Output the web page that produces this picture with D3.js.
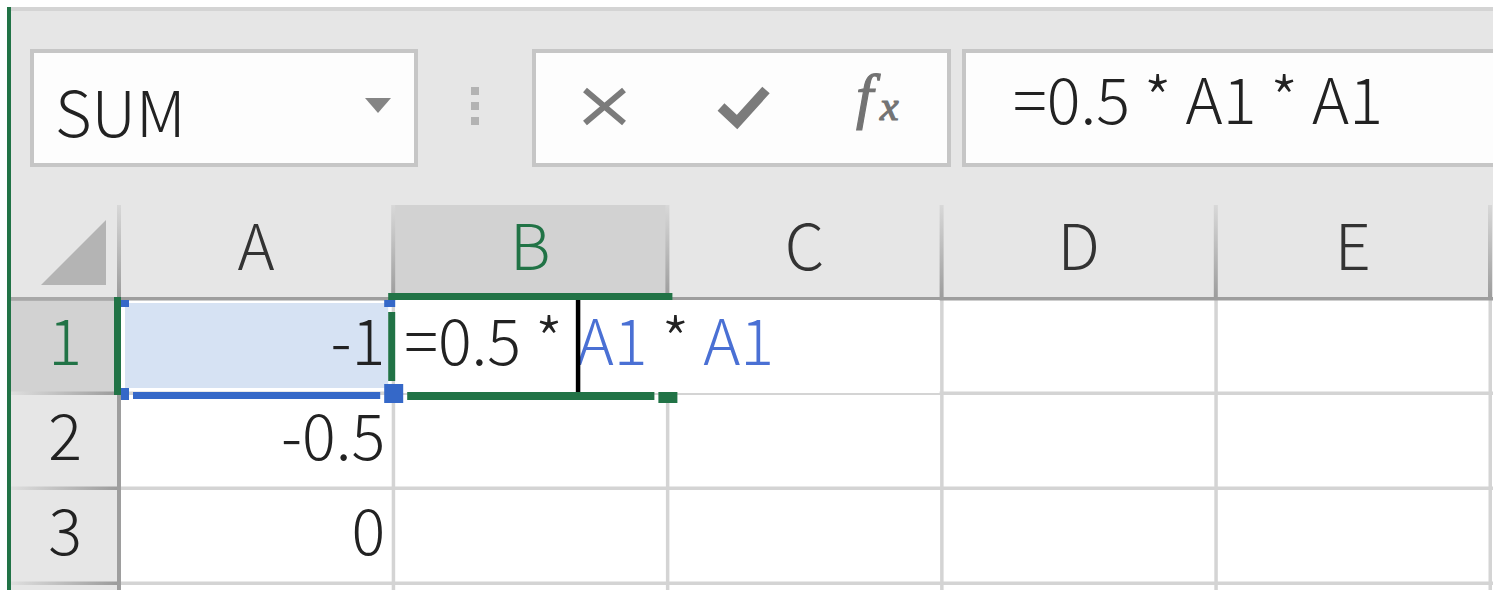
<!DOCTYPE html>
<html><head><meta charset="utf-8">
<script src="https://cdn.jsdelivr.net/npm/d3@7"></script>
<style>html,body{margin:0;padding:0;background:#fff;overflow:hidden}</style>
</head><body><svg id="c" width="1493" height="590"></svg>
<script>
// ---- data ----
const columns = ['A', 'B', 'C', 'D', 'E'];
const rowLabels = ['1', '2', '3'];
const columnAValues = [-1, -0.5, 0];
const nameBoxText = 'SUM';
const formulaTokens = ['=0.5 * ', 'A1', ' * ', 'A1'];
const tokenIsRef = [false, true, false, true];
const activeColumn = 'B';
const activeRow = '1';
const referencedColumn = 'A';

// ---- setup ----
const W = 1493, H = 590;
const FONT = "'Noto Sans CJK JP','Noto Sans',sans-serif";
const FS = 63, FW = 300;
const GREEN = '#217346', BLUE = '#3568c8', REFTEXT = '#4a70d4', INK = '#222';
const svg = d3.select('#c');
const defs = svg.append('defs');
const gv = defs.append('linearGradient').attr('id', 'gv').attr('x1', 0).attr('y1', 0).attr('x2', 0).attr('y2', 1);
gv.append('stop').attr('offset', 0).attr('stop-color', '#d8d8d8');
gv.append('stop').attr('offset', 1).attr('stop-color', '#9c9c9c');
const gh = defs.append('linearGradient').attr('id', 'gh').attr('x1', 0).attr('y1', 0).attr('x2', 1).attr('y2', 0);
gh.append('stop').attr('offset', 0).attr('stop-color', '#dedede');
gh.append('stop').attr('offset', 1).attr('stop-color', '#9c9c9c');

const x = d3.scaleBand().domain(columns).range([119, 1490]);
const y = d3.scaleBand().domain(rowLabels).range([298, 583]);
const bw = x.bandwidth(), bh = y.bandwidth();
const headTop = 205, headBot = 298;

// backgrounds
svg.append('rect').attr('width', W).attr('height', H).attr('fill', '#fff');
svg.append('rect').attr('x', 11).attr('y', 11).attr('width', W - 11).attr('height', headBot - 11).attr('fill', '#e6e6e6');
svg.append('rect').attr('x', 11).attr('y', 7).attr('width', W - 11).attr('height', 4).attr('fill', '#d4d4d4');

// ---- toolbar ----
const tb = svg.append('g');
tb.append('rect').attr('x', 32).attr('y', 51).attr('width', 384).attr('height', 114)
  .attr('fill', '#fdfdfd').attr('stroke', '#c6c6c6').attr('stroke-width', 4);
tb.append('text').attr('x', 55).attr('y', 137).attr('font-family', FONT).attr('font-size', FS)
  .attr('font-weight', FW).attr('fill', INK).text(nameBoxText);
tb.append('path').attr('d', 'M365,98 L391,98 L378,113 Z').attr('fill', '#858585');
tb.selectAll('rect.dot').data([87, 102, 117]).join('rect').attr('class', 'dot')
  .attr('x', 471).attr('y', d => d).attr('width', 8).attr('height', 8).attr('fill', '#b3b3b3');
tb.append('rect').attr('x', 534).attr('y', 51).attr('width', 415).attr('height', 114)
  .attr('fill', '#fdfdfd').attr('stroke', '#c6c6c6').attr('stroke-width', 4);
tb.append('path').attr('d', 'M585,90 L624,123 M585,123 L624,90').attr('stroke', '#7b7b7b')
  .attr('stroke-width', 6).attr('fill', 'none');
tb.append('path').attr('d', 'M721,107 L737,122 L766,90').attr('stroke', '#7b7b7b')
  .attr('stroke-width', 10).attr('fill', 'none');
const fxG = tb.append('g').attr('fill', '#737373').attr('stroke', '#737373').attr('stroke-width', 1.2)
  .attr('font-family', "'Liberation Serif',serif").attr('font-style', 'italic');
fxG.append('text').attr('x', 856).attr('y', 117).attr('font-size', 62).text('f');
fxG.append('text').attr('x', 880).attr('y', 120).attr('font-size', 42).text('x');
tb.append('rect').attr('x', 964).attr('y', 51).attr('width', 600).attr('height', 114)
  .attr('fill', '#fdfdfd').attr('stroke', '#c6c6c6').attr('stroke-width', 4);
tb.append('text').attr('x', 1013).attr('y', 124).attr('font-family', FONT).attr('font-size', FS)
  .attr('font-weight', FW).attr('fill', INK).style('white-space', 'pre')
  .text(formulaTokens.join(''));

// ---- column headers ----
const ch = svg.append('g');
ch.selectAll('rect.hbg').data(columns.filter(c => c === activeColumn)).join('rect').attr('class', 'hbg')
  .attr('x', d => x(d)).attr('y', headTop).attr('width', bw).attr('height', headBot - headTop).attr('fill', '#d2d2d2');
ch.selectAll('rect.sep').data(columns).join('rect').attr('class', 'sep')
  .attr('x', d => x(d) + bw - 2).attr('y', headTop).attr('width', 4).attr('height', headBot - headTop).attr('fill', 'url(#gv)');
ch.append('rect').attr('x', 117).attr('y', headTop).attr('width', 4).attr('height', headBot - headTop).attr('fill', 'url(#gv)');
ch.append('path').attr('d', 'M41,285 L106,285 L106,220 Z').attr('fill', '#b4b4b4');
ch.selectAll('text').data(columns).join('text')
  .attr('x', d => x(d) + bw / 2).attr('y', headTop + 65).attr('text-anchor', 'middle')
  .attr('font-family', FONT).attr('font-size', FS).attr('font-weight', FW)
  .attr('fill', d => d === activeColumn ? GREEN : '#333').text(d => d);

// ---- body ----
svg.append('rect').attr('x', 11).attr('y', headBot).attr('width', 106).attr('height', H - headBot).attr('fill', '#e6e6e6');
svg.selectAll('rect.rbg').data(rowLabels.filter(r => r === activeRow)).join('rect').attr('class', 'rbg')
  .attr('x', 11).attr('y', d => y(d)).attr('width', 106).attr('height', bh).attr('fill', '#d2d2d2');
// gridlines
svg.selectAll('rect.gh').data(rowLabels).join('rect').attr('class', 'gh')
  .attr('x', 121).attr('y', d => y(d) + bh - 1.5).attr('width', W - 121).attr('height', 3.5).attr('fill', '#d4d4d4');
svg.selectAll('rect.gvv').data(columns).join('rect').attr('class', 'gvv')
  .attr('x', d => x(d) + bw - 1.5).attr('y', headBot).attr('width', 3.5).attr('height', H - headBot).attr('fill', '#d4d4d4');
svg.selectAll('rect.rsep').data(rowLabels).join('rect').attr('class', 'rsep')
  .attr('x', 11).attr('y', d => y(d) + bh - 1.5).attr('width', 106).attr('height', 3.5).attr('fill', 'url(#gh)');
svg.append('rect').attr('x', 117).attr('y', headBot).attr('width', 4).attr('height', H - headBot).attr('fill', '#9e9e9e');
svg.append('rect').attr('x', 11).attr('y', headBot - 1).attr('width', W - 11).attr('height', 3.5).attr('fill', '#9e9e9e');
svg.append('rect').attr('x', 11).attr('y', headBot - 1).attr('width', 106).attr('height', 3.5).attr('fill', '#a8a8a8');

// row labels
svg.selectAll('text.rl').data(rowLabels).join('text').attr('class', 'rl')
  .attr('x', 65).attr('y', d => y(d) + 67).attr('text-anchor', 'middle')
  .attr('font-family', FONT).attr('font-size', FS).attr('font-weight', FW)
  .attr('fill', d => d === activeRow ? GREEN : INK).text(d => d);

// referenced cell A1 highlight
const ax = x(referencedColumn), ay = y(activeRow);
svg.append('rect').attr('x', ax + 6).attr('y', ay + 5).attr('width', bw - 11).attr('height', bh - 10).attr('fill', '#d6e2f3');

// values in column A
svg.selectAll('text.val').data(columnAValues).join('text').attr('class', 'val')
  .attr('x', x('A') + bw - 8).attr('y', (d, i) => y(rowLabels[i]) + 67).attr('text-anchor', 'end')
  .attr('font-family', FONT).attr('font-size', FS).attr('font-weight', FW).attr('fill', INK).text(d => String(d));

// active (editing) cell B1
const bx = x(activeColumn), by = y(activeRow);
svg.append('rect').attr('x', bx + 2).attr('y', by + 2).attr('width', 2 * bw - 4).attr('height', bh - 2).attr('fill', '#fff');
const ed = svg.append('text').attr('x', bx + 11).attr('y', by + 67).attr('font-family', FONT).attr('font-size', FS)
  .attr('font-weight', FW).style('white-space', 'pre');
ed.selectAll('tspan').data(formulaTokens).join('tspan')
  .attr('fill', (d, i) => tokenIsRef[i] ? REFTEXT : INK).text(d => d);
// cursor after first token
const caretX = bx + 11 + ed.node().getSubStringLength(0, formulaTokens[0].length);
svg.append('rect').attr('x', caretX - 1).attr('y', by + 2).attr('width', 4.5).attr('height', bh - 2).attr('fill', '#000');

// green active border
svg.append('rect').attr('x', bx - 5).attr('y', by - 5).attr('width', bw + 10).attr('height', 7).attr('fill', GREEN);
svg.append('rect').attr('x', bx - 5).attr('y', by + 14).attr('width', 7).attr('height', 69).attr('fill', GREEN);
svg.append('rect').attr('x', bx + 14).attr('y', by + bh - 1).attr('width', bw - 27).attr('height', 8).attr('fill', GREEN);
svg.append('rect').attr('x', bx + bw - 9).attr('y', by + bh - 1).attr('width', 19).attr('height', 11).attr('fill', GREEN);

// blue reference border of A1
svg.append('rect').attr('x', ax + 14).attr('y', ay + bh - 1).attr('width', bw - 27).attr('height', 7).attr('fill', BLUE);
svg.append('rect').attr('x', ax + 2).attr('y', ay + 2).attr('width', 8).attr('height', 7).attr('fill', BLUE);
svg.append('rect').attr('x', ax + bw - 9).attr('y', ay + 2).attr('width', 11).attr('height', 7).attr('fill', BLUE);
svg.append('rect').attr('x', ax + 2).attr('y', ay + bh - 5).attr('width', 8).attr('height', 12).attr('fill', BLUE);
svg.append('rect').attr('x', ax + bw - 9).attr('y', ay + bh - 9).attr('width', 19).attr('height', 19).attr('fill', BLUE);

// green row indicator
svg.append('rect').attr('x', 114).attr('y', headBot - 1).attr('width', 7).attr('height', bh + 3).attr('fill', GREEN);

// left green strip
svg.append('rect').attr('x', 7).attr('y', 7).attr('width', 4).attr('height', H - 7).attr('fill', GREEN);
</script></body></html>
